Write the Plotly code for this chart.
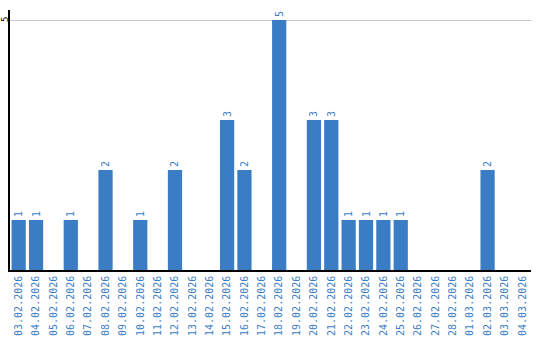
import plotly.graph_objects as go

dates = ["03.02.2026","04.02.2026","05.02.2026","06.02.2026","07.02.2026","08.02.2026",
         "09.02.2026","10.02.2026","11.02.2026","12.02.2026","13.02.2026","14.02.2026",
         "15.02.2026","16.02.2026","17.02.2026","18.02.2026","19.02.2026","20.02.2026",
         "21.02.2026","22.02.2026","23.02.2026","24.02.2026","25.02.2026","26.02.2026",
         "27.02.2026","28.02.2026","01.03.2026","02.03.2026","03.03.2026","04.03.2026"]
values = [1,1,0,1,0,2,0,1,0,2,0,0,3,2,0,5,0,3,3,1,1,1,1,0,0,0,0,2,0,0]
y_ticks = [5]

blue = "#3b7dc4"
labels = [str(v) if v > 0 else "" for v in values]

fig = go.Figure(go.Bar(
    x=dates, y=values, marker_color=blue, marker_line_width=0,
    text=labels, textposition="outside", textangle=-90,
    textfont=dict(family="DejaVu Sans Mono", size=10, color=blue),
    cliponaxis=False,
))
for t in y_ticks:
    fig.add_annotation(x=0, xref="paper", y=t, yref="y", text=str(t),
                       showarrow=False, textangle=-90, xanchor="center",
                       xshift=-5, font=dict(family="DejaVu Sans Mono", size=9, color="black"))
fig.update_layout(
    width=540, height=340, margin=dict(l=10, r=9, t=10, b=70),
    paper_bgcolor="white", plot_bgcolor="white", bargap=0.18,
    showlegend=False,
    xaxis=dict(type="category", tickangle=-90, showgrid=False, showline=True,
               linecolor="black", linewidth=1.5, ticks="", automargin=False,
               tickfont=dict(family="DejaVu Sans Mono", size=10, color=blue)),
    yaxis=dict(range=[0, 5.2], tickvals=y_ticks, showticklabels=False,
               showgrid=True, gridcolor="#c8c8c8", gridwidth=1, showline=True,
               linecolor="black", linewidth=1.5, zeroline=False, ticks="",
               automargin=False),
)
fig.write_html("out.html")
